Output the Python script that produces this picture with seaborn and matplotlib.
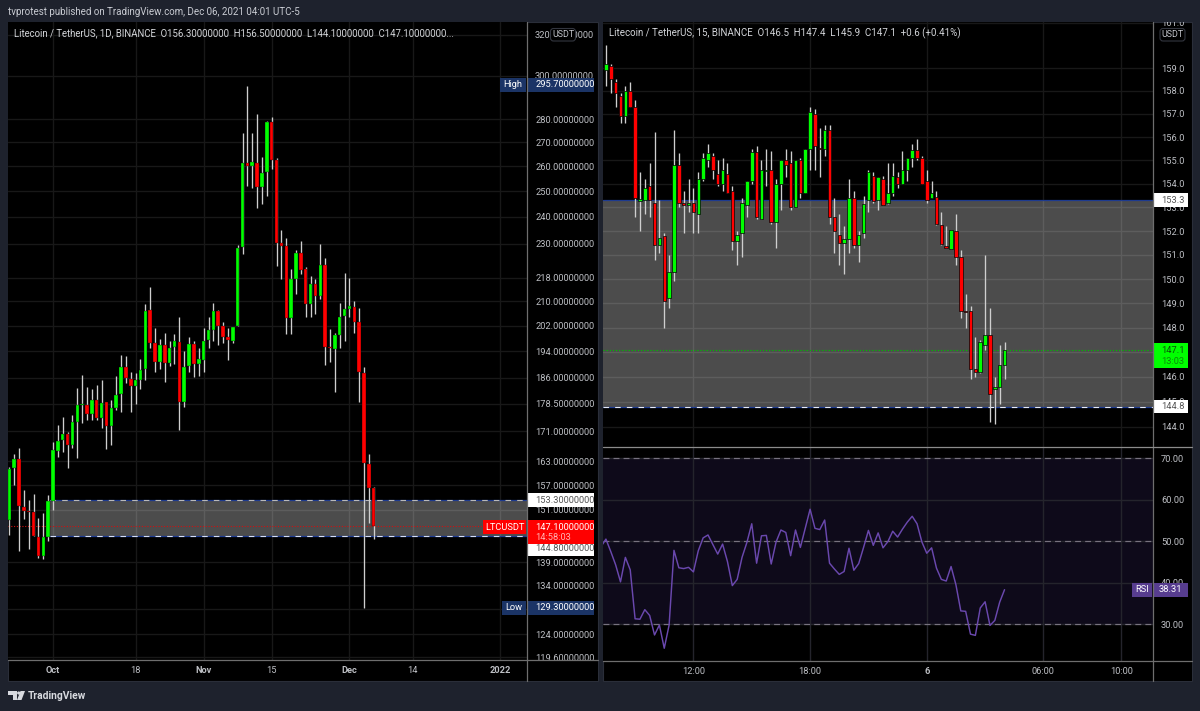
import numpy as np
import pandas as pd
import matplotlib
matplotlib.use("Agg")
import matplotlib.pyplot as plt
from matplotlib.patches import Rectangle, FancyBboxPatch, Polygon, Circle
import seaborn as sns

# Daily LTC/USDT candles
daily_open = [148.6,161.3,163.6,151.7,150.7,150.5,144.7,140.4,144.7,153.1,165.6,168.6,170.2,167.3,173.5,178.2,178.2,175.7,179.6,174.6,
              179.0,172.4,177.4,181.3,189.2,185.7,183.6,185.4,188.6,207.1,196.5,190.7,195.9,190.4,195.3,196.9,179.0,189.5,196.2,190.1,
              191.4,197.6,200.6,206.8,201.9,198.5,197.2,201.9,228.8,261.3,260.1,261.3,251.5,257.6,278.8,262.6,230.2,229.1,204.5,217.5,
              226.6,220.9,209.0,215.7,211.8,222.4,195.3,194.6,199.1,205.2,207.4,208.0,203.2,187.5,162.3,156.3]
daily_high = [161.6,164.9,166.5,155.8,153.3,154.8,149.1,150.2,154.6,168.0,172.7,174.9,170.7,175.4,183.0,186.9,183.3,182.7,183.9,185.4,
              179.1,179.6,186.6,192.9,192.6,187.8,187.5,191.7,209.0,214.7,201.2,197.9,199.7,197.2,199.4,204.9,194.1,198.5,197.2,194.9,
              201.2,204.9,209.4,207.2,203.2,201.2,201.6,229.5,274.0,295.4,274.0,282.4,263.8,279.3,281.1,263.4,235.0,232.1,220.9,227.7,
              231.0,221.7,218.5,217.5,229.9,224.8,200.9,199.7,209.4,219.6,217.9,210.1,207.7,189.2,164.9,156.5]
daily_low = [145.1,157.0,141.5,148.8,141.9,144.8,140.0,139.7,143.7,151.0,164.1,165.4,161.3,166.5,163.8,173.2,174.0,174.0,174.0,171.9,
             166.2,167.3,176.8,176.2,184.5,176.2,178.5,182.7,185.4,194.9,187.8,188.6,184.8,189.5,190.1,171.3,177.6,187.8,186.3,186.6,
             187.8,194.9,197.2,195.9,196.5,191.4,196.5,201.9,226.2,251.9,251.2,243.4,244.9,248.0,259.0,222.0,217.5,199.4,199.4,212.4,
             219.2,204.9,204.9,205.8,210.7,189.8,190.7,181.9,194.9,197.2,204.9,199.7,179.0,129.3,147.9,144.1]
daily_close = [161.1,163.6,151.9,150.7,150.5,144.9,140.4,144.7,153.1,165.9,168.3,170.2,167.3,173.5,178.2,178.4,175.7,179.6,174.6,178.8,
               172.4,177.4,181.0,189.2,186.0,183.6,185.4,188.3,206.8,196.5,190.7,195.9,190.4,195.0,197.2,179.0,189.2,196.2,190.1,191.7,
               197.2,200.6,206.8,201.9,198.5,197.6,201.6,228.4,261.3,260.1,261.7,251.5,257.2,278.8,262.6,230.2,229.1,204.5,217.5,226.6,
               220.6,209.0,215.7,211.8,222.4,195.3,194.9,199.1,204.9,207.4,208.4,203.2,187.8,162.6,156.3,147.1]

# Fifteen-minute LTC/USDT candles
quarter_open = [158.9,159.1,158.4,157.8,156.9,158.0,157.3,153.27,153.3,153.9,153.2,151.4,151.8,149.2,150.3,154.8,153.2,153.1,153.2,152.7,
                154.2,155.0,155.2,154.4,154.0,154.4,153.7,151.6,151.9,153.1,154.1,155.35,152.5,154.55,154.6,152.4,154.0,155.0,154.9,153.0,
                155.0,153.6,155.5,157.0,155.55,155.5,156.3,152.6,151.85,151.5,151.65,153.4,151.4,151.9,153.3,154.35,153.3,154.2,153.2,153.6,
                154.3,154.0,154.6,155.1,155.45,155.1,154.1,153.4,153.45,152.25,151.39,151.25,152.0,150.9,148.7,148.7,146.3,146.2,147.3,147.7,145.5,145.6,146.5]
quarter_high = [160.0,159.2,158.5,157.9,158.2,158.4,157.6,154.5,154.2,154.9,156.2,153.3,151.9,151.0,156.3,155.3,153.7,154.2,153.8,154.5,
                155.3,155.7,155.3,155.0,155.1,154.9,153.9,152.0,153.4,154.1,155.5,155.6,155.0,155.5,155.4,154.2,155.0,155.5,155.4,155.0,
                155.1,155.5,157.3,157.2,156.4,156.5,156.5,153.4,152.7,152.2,154.2,153.7,152.0,153.5,154.6,154.5,154.3,154.35,154.9,154.9,
                154.5,155.4,155.1,155.7,155.9,155.2,154.6,154.1,153.7,152.8,152.2,152.05,152.7,151.2,149.4,148.9,147.6,147.5,151.0,148.8,146.0,147.3,147.4]
quarter_low = [158.2,157.9,157.3,156.6,156.6,157.3,152.6,152.0,152.7,152.6,150.8,151.1,148.0,148.8,149.9,153.0,151.9,152.8,151.9,151.9,
               154.1,154.7,154.2,153.9,153.7,153.6,151.2,150.6,150.9,152.6,154.0,152.5,152.5,153.9,152.3,151.3,152.9,154.3,152.9,153.0,
               153.4,153.6,154.6,154.6,154.3,155.2,152.3,151.1,150.6,150.2,151.1,151.3,150.7,151.7,152.8,153.2,152.9,153.1,153.15,153.5,
               153.8,154.0,154.1,154.7,155.0,154.0,153.2,153.4,152.25,151.4,151.3,151.25,150.6,148.4,148.0,145.9,146.0,146.15,147.1,144.2,144.1,144.9,145.9]
quarter_close = [159.2,158.5,157.9,156.9,158.0,157.3,153.4,153.35,153.8,153.3,151.4,151.7,149.1,150.3,154.8,153.2,153.1,153.2,152.8,154.2,
                 155.1,155.3,154.6,154.0,154.6,153.6,151.6,151.85,153.2,154.1,155.35,152.6,154.6,154.6,152.4,154.0,155.0,154.8,153.0,155.0,
                 153.6,155.5,157.1,155.6,155.5,156.3,152.6,152.0,151.5,151.65,153.4,151.4,151.85,153.15,154.5,153.25,154.3,153.1,153.6,154.35,
                 154.0,154.6,155.1,155.45,155.1,154.0,153.3,153.6,152.3,151.45,151.3,152.05,150.9,148.7,148.65,146.3,146.2,147.4,147.7,145.3,145.6,146.5,147.1]

# RSI of the fifteen-minute series, starting one bar before the first candle
rsi_values = [48.7,50.5,47.5,44.3,40.2,46.1,43.1,31.3,31.2,33.5,32.1,27.4,29.8,24.2,29.8,47.8,43.6,43.4,43.7,42.6,47.7,50.8,51.5,49.2,46.9,
              49.3,45.1,39.3,40.8,46.1,49.7,54.2,44.7,51.3,51.4,44.5,49.8,52.7,52.1,46.5,52.7,48.5,53.1,57.7,53.1,52.8,55.1,44.7,43.3,42.0,
              42.7,48.3,43.0,44.6,48.5,52.6,49.0,52.0,48.4,49.9,52.4,51.0,52.9,54.6,56.0,54.2,49.8,47.1,48.4,43.5,40.8,40.4,43.9,39.5,33.2,
              33.1,27.6,27.3,33.9,35.4,29.7,30.9,35.3,38.31]

daily_ticks = [320,300,280,270,260,250,240,230,218,210,202,194,186,178.5,171,163,157,151,139,134,129,124,119.6]
quarter_ticks = [161,159,158,157,156,155,154,153,152,151,150,149,148,147,146,145,144]
rsi_ticks = [70,60,50,40,30]
# Gridlines sitting under a price tag carry no scale label of their own
daily_unlabelled = [129]
quarter_unlabelled = [147]
daily_date_ticks = [0,17,31,45,61,74,92]
daily_date_labels = ["Oct","18","Nov","15","Dec","14","2022"]
quarter_time_ticks = [18,42,66,90,106]
quarter_time_labels = ["12:00","18:00","6","06:00","10:00"]

ZONE_HIGH = 153.3
ZONE_LOW = 144.8
LAST_PRICE = 147.1
DAILY_HIGH = 295.7
DAILY_LOW = 129.3
LAST_RSI = 38.31

W, H = 1200, 711
FRAME = "#1e222d"
TICK_TEXT = "#bdbfc4"
NAVY = "#1b3466"
GRID = "#181818"
AXIS_LINE = "#6e6e6e"
BODY_UP = "#00ff00"
BODY_DOWN = "#ff0000"
WICK = "#cfcfcf"

sns.set_theme(style="dark", rc={"axes.facecolor": "black", "figure.facecolor": FRAME})
plt.rcParams["font.family"] = ["Roboto", "DejaVu Sans"]
TICK_FS = 6.7

fig = plt.figure(figsize=(W / 100, H / 100), dpi=100)


def pixel_axes(x0, y0, x1, y1, **kw):
    return fig.add_axes([x0 / W, 1 - y1 / H, (x1 - x0) / W, (y1 - y0) / H], **kw)


def draw_candles(ax, x, o, h, l, c, width, edge_lw):
    o, h, l, c = map(np.asarray, (o, h, l, c))
    colors = np.where(c >= o, BODY_UP, BODY_DOWN)
    ax.vlines(x, l, h, color=WICK, lw=0.95, zorder=3)
    ax.bar(x, np.abs(c - o), bottom=np.minimum(o, c), width=width, color=colors,
           edgecolor="#050505", linewidth=edge_lw, zorder=4)


def style_panel(ax):
    ax.set_axisbelow(True)
    ax.grid(True, color=GRID, lw=1.0)
    for spine in ax.spines.values():
        spine.set_visible(False)
    ax.yaxis.tick_right()
    ax.tick_params(axis="both", length=0, colors=TICK_TEXT, labelsize=TICK_FS)
    ax.tick_params(axis="y", pad=5.6)
    ax.tick_params(axis="x", pad=4.2)


# Panel backgrounds
back = pixel_axes(0, 0, W, H, zorder=-5)
back.set_xlim(0, W)
back.set_ylim(H, 0)
back.axis("off")
back.add_patch(Rectangle((8, 21.7), 590, 659.5, fc="black", ec="#2a2e39", lw=0.8))
back.add_patch(Rectangle((603, 21.7), 589, 659.5, fc="black", ec="#2a2e39", lw=0.8))

# Left pane: daily candles on a log price scale
ax_day = pixel_axes(8, 21.7, 527.3, 660)
ax_day.set_yscale("log")
ax_day.set_xlim(-9.26, 97.6)
ax_day.set_ylim(119.05, 326.8)
style_panel(ax_day)
ax_day.yaxis.set_minor_locator(matplotlib.ticker.NullLocator())
ax_day.set_yticks(daily_ticks)
ax_day.set_yticklabels(["" if t in daily_unlabelled else f"{t:.8f}" for t in daily_ticks])
ax_day.set_xticks(daily_date_ticks)
ax_day.set_xticklabels(daily_date_labels)

day_x = np.arange(-9, -9 + len(daily_open))
ax_day.fill_between([-0.6, 97.6], ZONE_LOW, ZONE_HIGH, color="white", alpha=0.3, lw=0, zorder=1)
for level, dash_color in ((ZONE_HIGH, "#b9b9b9"), (ZONE_LOW, "#d5def5")):
    ax_day.plot([-0.6, 97.6], [level, level], color="#1d3a8f", lw=0.9, zorder=2)
    ax_day.plot([-0.6, 97.6], [level, level], color=dash_color, lw=0.8, ls=(0, (5, 5.5)), zorder=2)
ax_day.plot([-9.26, 88.5], [LAST_PRICE, LAST_PRICE], color="#d01010", lw=0.8, ls=(0, (1, 1.5)), zorder=2)
draw_candles(ax_day, day_x, daily_open, daily_high, daily_low, daily_close, 0.72, 0.25)

# Right pane: fifteen-minute candles
ax_qtr = pixel_axes(603, 21.7, 1153.3, 447)
ax_qtr.set_yscale("log")
ax_qtr.set_xlim(-0.6, 112.6)
ax_qtr.set_ylim(143.2, 161.05)
style_panel(ax_qtr)
ax_qtr.yaxis.set_minor_locator(matplotlib.ticker.NullLocator())
ax_qtr.set_yticks(quarter_ticks)
ax_qtr.set_yticklabels(["" if t in quarter_unlabelled else f"{t:.1f}" for t in quarter_ticks])
ax_qtr.set_xticks(quarter_time_ticks)
ax_qtr.set_xticklabels([])

bar_x = np.arange(len(quarter_open))
ax_qtr.fill_between([-0.6, 112.6], ZONE_LOW, ZONE_HIGH, color="white", alpha=0.3, lw=0, zorder=1)
ax_qtr.plot([-0.6, 112.6], [ZONE_HIGH, ZONE_HIGH], color="#1d3a8f", lw=0.9, zorder=2)
ax_qtr.plot([-0.6, 112.6], [ZONE_LOW, ZONE_LOW], color="#1d3a8f", lw=0.9, zorder=2)
ax_qtr.plot([-0.6, 112.6], [ZONE_LOW, ZONE_LOW], color="#e6ebf8", lw=0.8, ls=(0, (5, 5.5)), zorder=2)
ax_qtr.plot([-0.6, 112.6], [LAST_PRICE, LAST_PRICE], color="#00c000", lw=0.9, ls=(0, (1, 1.5)), zorder=2)
draw_candles(ax_qtr, bar_x, quarter_open, quarter_high, quarter_low, quarter_close, 0.72, 0.5)

# RSI pane under the fifteen-minute candles
ax_rsi = pixel_axes(603, 447, 1153.3, 660.7)
ax_rsi.set_xlim(-0.6, 112.6)
ax_rsi.set_ylim(21.2, 72.7)
style_panel(ax_rsi)
ax_rsi.grid(True, color="#24242c", lw=1.0)
ax_rsi.set_yticks(rsi_ticks)
ax_rsi.set_yticklabels([f"{t:.2f}" for t in rsi_ticks])
ax_rsi.set_xticks(quarter_time_ticks)
ax_rsi.set_xticklabels(quarter_time_labels)
ax_rsi.fill_between([-0.6, 112.6], 30, 70, color="#0e0a1a", lw=0, zorder=0.4)
for level in (70, 50, 30):
    ax_rsi.axhline(level, color="#77727f", lw=0.85, ls=(0, (5, 3.5)), zorder=1)
rsi_frame = pd.DataFrame({"bar": np.arange(-1, len(rsi_values) - 1), "rsi": rsi_values})
sns.lineplot(data=rsi_frame, x="bar", y="rsi", ax=ax_rsi, color="#6a48ae", linewidth=1.05,
             errorbar=None, sort=False, zorder=3)
ax_rsi.set_xlabel("")
ax_rsi.set_ylabel("")

# Bold the month, year and day boundaries on the time scales
for lab in ax_day.get_xticklabels():
    if lab.get_text() in ("Oct", "Nov", "Dec", "2022"):
        lab.set_fontweight("bold")
for lab in ax_rsi.get_xticklabels():
    if lab.get_text() == "6":
        lab.set_fontweight("bold")

# Chrome and price tags live on a pixel-scaled layer above the panes
top = pixel_axes(0, 0, W, H, zorder=10)
top.set_xlim(0, W)
top.set_ylim(H, 0)
top.axis("off")
top.patch.set_alpha(0)


def price_pixel(ax, value):
    return H - ax.transData.transform((ax.get_xlim()[0], value))[1]


def box(x0, x1, y0, y1, fc):
    top.add_patch(Rectangle((x0, y0), x1 - x0, y1 - y0, fc=fc, ec="none"))


def label(x, y, s, color=TICK_TEXT, fs=TICK_FS, ha="left", **kw):
    top.text(x, y, s, color=color, fontsize=fs, ha=ha, va="center", **kw)


def value_tag(ax, value, s, x0, x1, text_x, fc, color, nudge=0.0, h=14):
    y = price_pixel(ax, value) + nudge
    box(x0, x1, y - h / 2, y + h / 2, fc)
    label(text_x, y, s, color=color)


# Frame strip above the panes and the corner under the left price scale
box(0, W, 0, 21.7, FRAME)
box(528, 598, 660, 681, "black")
box(1154, 1192, 660.7, 681, "black")

for x, y0, y1 in ((527.3, 21.7, 681), (1153.3, 21.7, 681)):
    top.plot([x, x], [y0, y1], color=AXIS_LINE, lw=0.9)
top.plot([8, 598], [660, 660], color=AXIS_LINE, lw=0.9)
top.plot([603, 1192], [660.7, 660.7], color=AXIS_LINE, lw=0.9)
top.plot([603, 1192], [447, 447], color="#8c8c8c", lw=0.9)

label(8, 12, "tvprotest published on TradingView.com, Dec 06, 2021 04:01 UTC-5", color="#c9ccd3", fs=7.0)
label(14, 33, "Litecoin / TetherUS, 1D, BINANCE  O156.30000000  H156.50000000  L144.10000000  C147.10000000...",
      color="#d2d4d8", fs=6.95)
label(609, 33, "Litecoin / TetherUS, 15, BINANCE  O146.5  H147.4  L145.9  C147.1  +0.6 (+0.41%)",
      color="#d2d4d8", fs=7.0)

# Currency pills
for px0, px1 in ((550.5, 575.5), (1160, 1185)):
    top.add_patch(FancyBboxPatch((px0, 28.5), px1 - px0, 12.5, boxstyle="round,pad=0,rounding_size=3",
                                 fc="black", ec="#33363f", lw=0.8, mutation_aspect=1))
    label((px0 + px1) / 2, 34.8, "USDT", color="#c4c6cc", fs=6.4, ha="center")

# Left price-scale tags
value_tag(ax_day, DAILY_HIGH, "295.70000000", 527.8, 594, 535.5, NAVY, "white")
box(500, 525.8, price_pixel(ax_day, DAILY_HIGH) - 7, price_pixel(ax_day, DAILY_HIGH) + 7, NAVY)
label(513, price_pixel(ax_day, DAILY_HIGH), "High", color="white", ha="center")
value_tag(ax_day, DAILY_LOW, "129.30000000", 527.8, 594, 535.5, NAVY, "white")
box(502, 525.8, price_pixel(ax_day, DAILY_LOW) - 7, price_pixel(ax_day, DAILY_LOW) + 7, NAVY)
label(514, price_pixel(ax_day, DAILY_LOW), "Low", color="white", ha="center")
value_tag(ax_day, ZONE_HIGH, "153.30000000", 527.8, 594, 535.5, "white", "#555555")
value_tag(ax_day, ZONE_LOW, "144.80000000", 527.8, 594, 535.5, "white", "#555555", nudge=12.5)
box(527.8, 594, 520, 544, BODY_DOWN)
label(535.5, 527, "147.10000000", color="white")
label(535.5, 538, "14:58:03", color="#ffb3b3")
box(483, 525.8, 520, 534, BODY_DOWN)
label(504.5, 527, "LTCUSDT", color="white", ha="center")

# Right price-scale tags
value_tag(ax_qtr, ZONE_HIGH, "153.3", 1153.8, 1187.7, 1161, "white", "#555555")
value_tag(ax_qtr, ZONE_LOW, "144.8", 1153.8, 1187.7, 1161, "white", "#555555", h=13)
box(1153.8, 1187.7, 343, 368, BODY_UP)
label(1161, 350.5, "147.1", color="#0a4f0a")
label(1161, 361, "13:03", color="#0a8a0a")
rsi_y = price_pixel(ax_rsi, LAST_RSI)
box(1132, 1151.5, rsi_y - 7, rsi_y + 7, "#573d8f")
label(1141.7, rsi_y, "RSI", color="white", ha="center")
value_tag(ax_rsi, LAST_RSI, f"{LAST_RSI:.2f}", 1153.8, 1187.7, 1159, "#573d8f", "white")

# Footer wordmark
logo = "#d8dadf"
top.add_patch(Rectangle((8, 691), 8.5, 3.6, fc=logo, ec="none"))
top.add_patch(Rectangle((12.5, 691), 4, 9, fc=logo, ec="none"))
top.add_patch(Circle((18.7, 693), 1.6, fc=logo, ec="none"))
top.add_patch(Polygon([[20.5, 691], [25, 691], [21.5, 700], [17, 700]], closed=True, fc=logo, ec="none"))
label(27.5, 696, "TradingView", color=logo, fs=7.4, fontweight="bold")

fig.savefig("out.png", dpi=100)
